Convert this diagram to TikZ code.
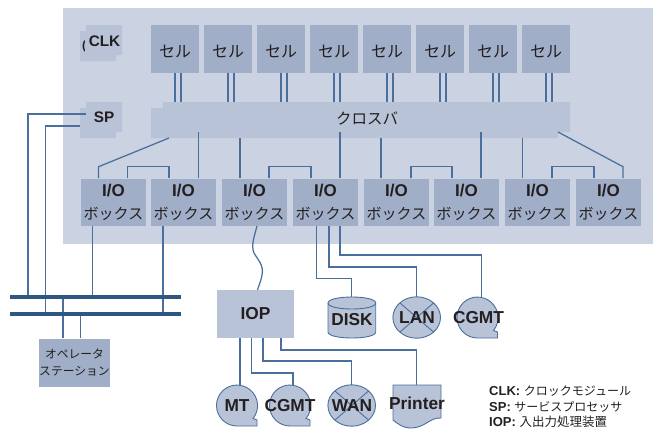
\documentclass[tikz,border=0pt]{standalone}
\usepackage{fontspec}
\setmainfont{Liberation Sans}
\newfontfamily\jpfont{Noto Sans CJK JP}
\usetikzlibrary{calc}
\definecolor{bgc}{HTML}{CBD2E2}
\definecolor{boxc}{HTML}{A0AEC8}
\definecolor{lightc}{HTML}{B9C3D7}
\definecolor{linec}{HTML}{4A6F9C}
\definecolor{busc}{HTML}{2F5783}
\definecolor{txtc}{HTML}{231F20}
\tikzset{
 x=1pt,y=-1pt,
 conn/.style={draw=linec,line width=1.25pt},
 outl/.style={draw=linec,line width=0.9pt,fill=lightc},
 thinx/.style={draw=linec,line width=0.9pt},
 busline/.style={draw=busc,line width=4pt},
 lat/.style={font=\fontsize{17.3}{19}\selectfont\bfseries,text=txtc,inner sep=0pt},
 sml/.style={font=\fontsize{15.3}{17}\selectfont\bfseries,text=txtc,inner sep=0pt},
 cellbox/.style={fill=boxc,minimum width=48pt,minimum height=48pt,inner sep=0pt,text=txtc,text height=18pt,text depth=2pt,font=\jpfont\fontsize{16}{18}\selectfont},
 iobox/.style={fill=boxc,minimum width=65pt,minimum height=48pt,inner sep=0pt,text=txtc,align=center,font=\fontsize{17}{23}\selectfont},
 legend/.style={anchor=west,inner sep=0pt,text=txtc,font=\fontsize{13}{15}\selectfont},
}
\newcommand{\iotext}{{\bfseries I/O}\\{\jpfont\fontsize{15}{17}\selectfont ボックス}}
\begin{document}
\begin{tikzpicture}
\useasboundingbox (0,0) rectangle (653,429);
\fill[bgc] (63,8) rectangle (653,243.5);
% CLK, SP
\fill[lightc] (86,25) rectangle (122,55) (80,31) rectangle (116,61);
\fill[lightc] (86,102) rectangle (122,132) (80,108) rectangle (116,138);
\node[sml] (clkp) at (84,46) {\fontsize{12}{14}\selectfont(};
\fill[lightc] (84.5,38) rectangle (87,55);
\node[sml] (clk) at (104.5,41) {CLK};
\node[sml] (sp) at (104,117) {SP};
\coordinate (spa) at (86,114);
\coordinate (spb) at (80,126);
% cells
\foreach \i in {1,...,8}{
  \node[cellbox] (c\i) at ({175+53*(\i-1)},49) {セル};
}
% crossbar
\fill[lightc] (163,102) -- (570,102) -- (570,132) -- (558,132) -- (558,138) -- (151,138) -- (151,108) -- (163,108) -- cycle;
\node[inner sep=0pt,text=txtc,font=\jpfont\fontsize{15.5}{17}\selectfont] (xb) at (367,118) {クロスバ};
% IO boxes
\foreach \i/\x in {1/113.5,2/183.5,3/254.5,4/325.5,5/396.5,6/466.5,7/537.5,8/608.5}{
  \node[iobox] (io\i) at (\x,202.5) {\iotext};
}
\fill[bgc] (78,226) rectangle (645,228);
% cell-crossbar
\foreach \i in {1,...,8}{
  \draw[conn] (c\i.south) -- ++(0,29);
  \draw[conn] ($(c\i.south)+(6,0)$) -- ++(0,29);
}
% crossbar - IO
\draw[conn] (169,138) -- (98.6,166.7) -- (98.6,178);
\foreach \a/\b in {127.7/169,269/311,411/452,552/594}{
  \draw[conn] (\a,178) -- (\a,166.7) -- (\b,166.7) -- (\b,178);
}
\foreach \x in {198.7,340,481}{ \draw[conn] (\x,132) -- (\x,178); }
\foreach \x in {240,381,522.7}{ \draw[conn] (\x,138) -- (\x,178); }
\draw[conn] (558,132) -- (623,166.7) -- (623,178);
% buses
\coordinate (b1l) at (10,297); \coordinate (b1r) at (181,297);
\coordinate (b2l) at (10,314); \coordinate (b2r) at (181,314);
\draw[conn] (spa) -- (28,114) -- (28,297);
\draw[conn] (spb) -- (45.5,126) -- (45.5,314);
\draw[conn] (92.7,226) -- (92.7,297);
\draw[conn] (163,226) -- (163,314);
% operator
\node[fill=boxc,minimum width=71pt,minimum height=48pt,inner sep=0pt,text=txtc,align=center,font=\jpfont\fontsize{11.8}{17}\selectfont] (op) at (74.5,362.5) {オペレータ\\ステーション};
\draw[conn] (63,297) -- (63,338);
\draw[conn] (80.7,314) -- (80.7,338);
\draw[busline] (b1l) -- (b1r);
\draw[busline] (b2l) -- (b2r);
% IOP
\node[fill=lightc,minimum width=77pt,minimum height=48pt,inner sep=0pt,lat] (iop) at (255.5,314) {IOP};
\draw[conn] (257,226) .. controls (254,237) and (251,246) .. (254,253) .. controls (258,260) and (264,265) .. (262,275) .. controls (261,281) and (259,285) .. (257.5,290);
% IO4 links
\draw[conn] (316.6,226) -- (316.6,278.7) -- (351.7,278.7) -- (351.7,297);
\draw[conn] (329,226) -- (329,267) -- (416.7,267) -- (416.7,297);
\draw[conn] (340,226) -- (340,255) -- (481.5,255) -- (481.5,297);
% IOP links
\draw[conn] (240,338) -- (240,385);
\draw[conn] (251.7,338) -- (251.7,373) -- (293,373) -- (293,385);
\draw[conn] (263,338) -- (263,361) -- (351.7,361) -- (351.7,385);
\draw[conn] (281,338) -- (281,350) -- (416.7,350) -- (416.7,385);
% disk
\draw[outl] (328,303) -- (328,332) .. controls (328,340) and (375.7,340) .. (375.7,332) -- (375.7,303) .. controls (375.7,295) and (328,295) .. (328,303) -- cycle;
\draw[thinx] (328,303) .. controls (328,311) and (375.7,311) .. (375.7,303);
\node[lat] (disk) at (352,319.5) {DISK};
% LAN
\draw[outl] (416.7,317.5) ellipse [x radius=23.8,y radius=20.7];
\draw[thinx] (400,303) -- (433.5,332) (433.5,303) -- (400,332);
\node[lat] (lan) at (417,318) {LAN};
% tapes
\foreach \cx/\cy/\n/\t/\tx in {477.5/317.5/cg1/CGMT/478.5, 237/405.5/mt/MT/237, 290/405.5/cg2/CGMT/290}{
  \draw[outl] (\cx,\cy-20.5) arc[start angle=-90,delta angle=-180,radius=20.5]
     -- (\cx+20,\cy+20.5) -- (\cx+20,\cy+14.5) -- (\cx+16,\cy+13)
     arc[start angle=39,delta angle=-129,radius=20.5] -- cycle;
  \node[lat] (\n) at (\tx,\cy) {\t};
}
% WAN
\draw[outl] (351.7,405.5) ellipse [x radius=23.8,y radius=20.7];
\draw[thinx] (335,391) -- (368.5,420) (368.5,391) -- (335,420);
\node[lat] (wan) at (352,406) {WAN};
% printer
\draw[outl] (393,385) -- (441,385) -- (441,418) .. controls (430,417) and (425,428) .. (411,428) .. controls (403,428) and (398,424) .. (393,420) -- cycle;
\node[lat] (pr) at (417,403) {Printer};
% legend
\node[legend] (l1) at (489,391.5) {{\bfseries CLK:} {\jpfont\fontsize{12}{15}\selectfont クロックモジュール}};
\node[legend] (l2) at (489,407) {{\bfseries SP:} {\jpfont\fontsize{12}{15}\selectfont サービスプロセッサ}};
\node[legend] (l3) at (489,421.5) {{\bfseries IOP:} {\jpfont\fontsize{12.5}{15}\selectfont 入出力処理装置}};
\end{tikzpicture}
\end{document}
